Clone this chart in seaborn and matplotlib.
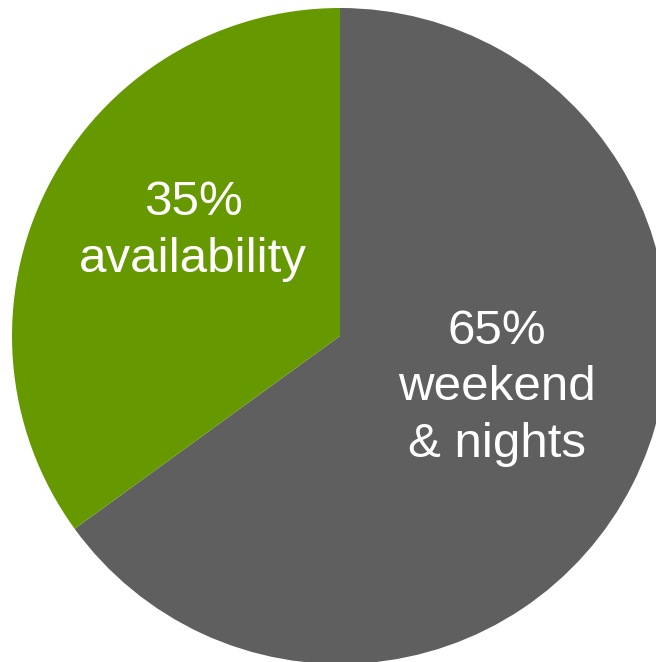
import matplotlib
matplotlib.use("Agg")
import matplotlib.pyplot as plt
import seaborn as sns

# Share of time by period
categories = ["weekend\n& nights", "availability"]
shares = [65, 35]
colors = ["#5f5f5f", "#669900"]

sns.set_theme(style="white")
plt.rcParams["font.family"] = ["Liberation Sans", "DejaVu Sans"]

W, H, DPI = 656, 662, 100
fig = plt.figure(figsize=(W / DPI, H / DPI), dpi=DPI)
fig.patch.set_facecolor("white")

# pie centre at (340, 336) px, radius 328 px
cx, cy, r = 340, 336, 328
ax = fig.add_axes([(cx - r) / W, (H - cy - r) / H, 2 * r / W, 2 * r / H])

wedges, _ = ax.pie(
    shares,
    colors=colors,
    startangle=90,
    counterclock=False,
    radius=1.0,
    wedgeprops=dict(linewidth=0),
)
ax.set_xlim(-1, 1)
ax.set_ylim(-1, 1)
ax.set_aspect("equal")
ax.axis("off")

# label anchors inside each wedge (axes data units)
label_pos = [(0.479, -0.158), (-0.448, 0.320)]
for share, name, (x, y) in zip(shares, categories, label_pos):
    ax.text(
        x, y, f"{share}%\n{name}",
        ha="center", va="center", color="white",
        fontsize=35.5, linespacing=1.32,
    )

fig.savefig("out.png", dpi=DPI, facecolor="white")
